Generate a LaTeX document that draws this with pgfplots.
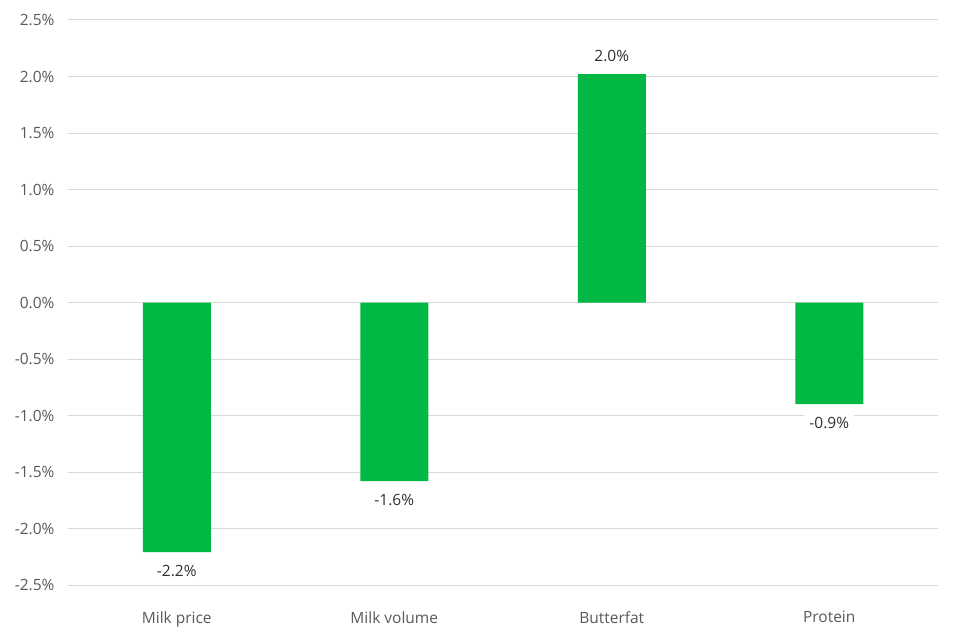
\documentclass[border=0pt]{standalone}
\usepackage{pgfplots}
\pgfplotsset{compat=1.18}
\usepackage{fontspec}
\setmainfont{Open Sans}
\definecolor{bargreen}{HTML}{00B843}
\definecolor{gridgray}{HTML}{D9D9D9}
\definecolor{ticktext}{HTML}{595959}
\definecolor{labeltext}{HTML}{303030}
\begin{document}
\begin{tikzpicture}[x=1pt,y=1pt]
\useasboundingbox (0,0) rectangle (960,640);
\begin{axis}[
  at={(68pt,55pt)}, anchor=south west,
  scale only axis, width=870pt, height=565pt,
  ybar, bar width=68pt,
  xmin=-0.5, xmax=3.5, ymin=-2.5, ymax=2.5,
  xtick={0,1,2,3},
  xticklabels={Milk price,Milk volume,Butterfat,Protein},
  ytick={-2.5,-2,...,2.5},
  yticklabel={\pgfmathprintnumber[fixed,fixed zerofill,precision=1]{\tick}\%},
  /pgf/number format/assume math mode=true,
  ymajorgrids, grid style={gridgray, line width=1pt},
  axis line style={draw=none}, major tick length=0pt,
  tick label style={font=\fontsize{15.5}{18}\selectfont, text=ticktext},
  xticklabel style={yshift=-23pt},
  yticklabel style={xshift=-10pt},
  nodes near coords={\pgfmathprintnumber[fixed,fixed zerofill,precision=1]{\pgfplotspointmeta}\%},
  nodes near coords align={vertical},
  every node near coord/.append style={font=\fontsize{15.5}{18}\selectfont, text=labeltext, fill=white, inner xsep=5pt, inner ysep=3pt, outer ysep=10pt},
]
\addplot[fill=bargreen, draw=none] coordinates {(0,-2.21) (1,-1.58) (2,2.02) (3,-0.9)};
\end{axis}
\end{tikzpicture}
\end{document}
